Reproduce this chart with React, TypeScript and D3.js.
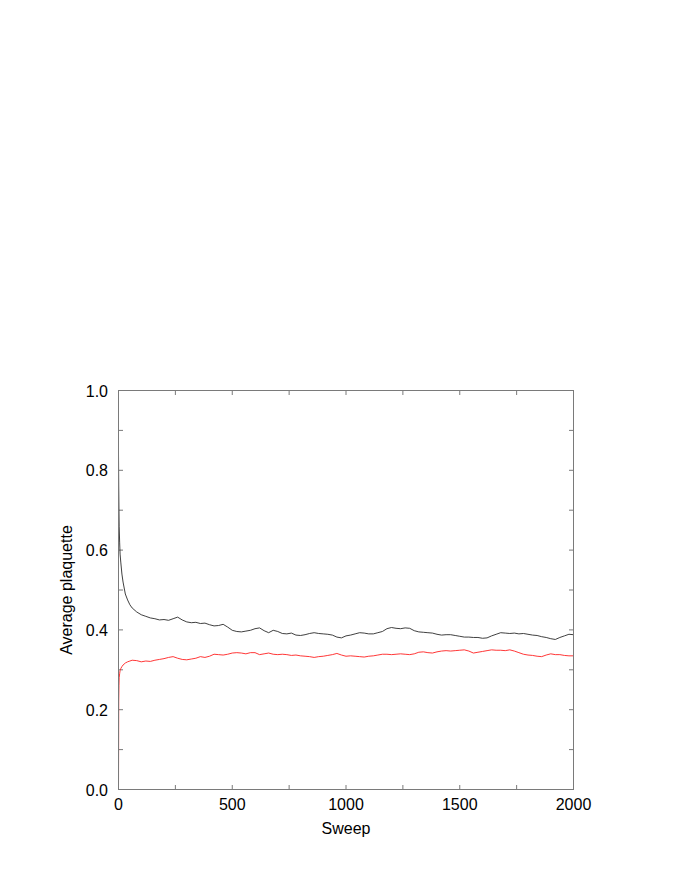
import React from "react";
import * as d3 from "d3";

const sweeps = [
  0, 1, 2, 3, 5, 7, 10, 15, 20, 30, 40, 50, 60, 80, 100, 120, 140, 160, 180, 200,
  220, 240, 260, 280, 300, 320, 340, 360, 380, 400, 420, 440, 460, 480, 500, 520, 540, 560, 580, 600,
  620, 640, 660, 680, 700, 720, 740, 760, 780, 800, 820, 840, 860, 880, 900, 920, 940, 960, 980, 1000,
  1020, 1040, 1060, 1080, 1100, 1120, 1140, 1160, 1180, 1200, 1220, 1240, 1260, 1280, 1300, 1320, 1340, 1360, 1380, 1400,
  1420, 1440, 1460, 1480, 1500, 1520, 1540, 1560, 1580, 1600, 1620, 1640, 1660, 1680, 1700, 1720, 1740, 1760, 1780, 1800,
  1820, 1840, 1860, 1880, 1900, 1920, 1940, 1960, 1980, 2000,
];

const blackSeries = [
  0.84, 0.76, 0.7, 0.66, 0.62, 0.59, 0.57, 0.54, 0.52, 0.49, 0.475, 0.463, 0.455, 0.445, 0.438, 0.434, 0.43, 0.428, 0.425, 0.426,
  0.424, 0.428, 0.432, 0.425, 0.42, 0.418, 0.419, 0.416, 0.417, 0.413, 0.41, 0.411, 0.414, 0.407, 0.399, 0.396, 0.395, 0.397, 0.399, 0.403,
  0.405, 0.398, 0.393, 0.399, 0.396, 0.391, 0.39, 0.392, 0.387, 0.386, 0.388, 0.391, 0.393, 0.391, 0.39, 0.389, 0.387, 0.382, 0.38, 0.385,
  0.387, 0.39, 0.393, 0.392, 0.39, 0.39, 0.393, 0.396, 0.403, 0.406, 0.404, 0.403, 0.405, 0.404, 0.398, 0.395, 0.394, 0.393, 0.392, 0.389,
  0.387, 0.388, 0.388, 0.386, 0.384, 0.382, 0.382, 0.381, 0.381, 0.379, 0.38, 0.385, 0.389, 0.393, 0.392, 0.391, 0.392, 0.39, 0.391, 0.389,
  0.387, 0.386, 0.383, 0.381, 0.378, 0.376, 0.381, 0.385, 0.389, 0.388,
];

const redSeries = [
  0.0, 0.22, 0.26, 0.28, 0.29, 0.298, 0.303, 0.308, 0.312, 0.317, 0.32, 0.322, 0.324, 0.323, 0.32, 0.322, 0.321, 0.324, 0.326, 0.328,
  0.331, 0.333, 0.329, 0.326, 0.325, 0.327, 0.329, 0.333, 0.331, 0.334, 0.339, 0.338, 0.337, 0.339, 0.342, 0.343, 0.342, 0.34, 0.343, 0.343,
  0.338, 0.34, 0.342, 0.339, 0.338, 0.339, 0.338, 0.336, 0.337, 0.335, 0.334, 0.333, 0.331, 0.333, 0.334, 0.336, 0.338, 0.341, 0.337, 0.334,
  0.335, 0.334, 0.333, 0.332, 0.334, 0.335, 0.337, 0.339, 0.339, 0.338, 0.339, 0.34, 0.339, 0.338, 0.34, 0.344, 0.345, 0.343, 0.342, 0.345,
  0.347, 0.348, 0.347, 0.348, 0.349, 0.35, 0.347, 0.342, 0.344, 0.346, 0.348, 0.35, 0.349, 0.349, 0.348, 0.35, 0.347, 0.343, 0.339, 0.337,
  0.336, 0.334, 0.333, 0.337, 0.34, 0.338, 0.338, 0.336, 0.335, 0.335,
];

const xTickLabels = [0, 500, 1000, 1500, 2000];
const xMinorTicks = [250, 750, 1250, 1750];
const yTickLabels = [0, 0.2, 0.4, 0.6, 0.8, 1.0];
const yMinorTicks = [0.1, 0.3, 0.5, 0.7, 0.9];

const xTitle = "Sweep";
const yTitle = "Average plaquette";

export default function App() {
  const W = 692;
  const H = 896;
  const left = 118.5, right = 573.5, top = 390.5, bottom = 789.5;
  const x = d3.scaleLinear().domain([0, 2000]).range([left, right]);
  const y = d3.scaleLinear().domain([0, 1]).range([bottom, top]);
  const line = d3
    .line<number>()
    .x((_, i) => x(sweeps[i]))
    .y((d) => y(d));
  const frame = "#7a7a7a";
  const tl = 4.5;
  const font = "'Liberation Sans', Arial, Helvetica, sans-serif";
  const allX = [...xTickLabels, ...xMinorTicks].filter((v) => v > 0 && v < 2000);
  const allY = [...yTickLabels, ...yMinorTicks].filter((v) => v > 0 && v < 1);
  return (
    <svg
      width={W}
      height={H}
      style={{ position: "absolute", left: 0, top: 0, background: "#fff" }}
    >
      <rect x={0} y={0} width={W} height={H} fill="#fff" />
      <g stroke={frame} strokeWidth={1}>
        {allX.map((v) => (
          <g key={"xt" + v}>
            <line x1={x(v)} x2={x(v)} y1={bottom} y2={bottom - tl} />
            <line x1={x(v)} x2={x(v)} y1={top} y2={top + tl} />
          </g>
        ))}
        {allY.map((v) => (
          <g key={"yt" + v}>
            <line x1={left} x2={left + tl} y1={y(v)} y2={y(v)} />
            <line x1={right} x2={right - tl} y1={y(v)} y2={y(v)} />
          </g>
        ))}
      </g>
      <path d={line(redSeries) || ""} fill="none" stroke="#ff2020" strokeWidth={0.9} />
      <path d={line(blackSeries) || ""} fill="none" stroke="#2a2a2a" strokeWidth={0.9} />
      <rect
        x={left}
        y={top}
        width={right - left}
        height={bottom - top}
        fill="none"
        stroke={frame}
        strokeWidth={1}
      />
      <g fontFamily={font} fontSize={16} fill="#000">
        {yTickLabels.map((v) => (
          <text key={"yl" + v} x={108} y={y(v) + 6} textAnchor="end">
            {v.toFixed(1)}
          </text>
        ))}
        {xTickLabels.map((v) => (
          <text key={"xl" + v} x={x(v)} y={810} textAnchor="middle">
            {v}
          </text>
        ))}
        <text x={(left + right) / 2} y={834} textAnchor="middle">
          {xTitle}
        </text>
        <text
          transform={`translate(72, ${(top + bottom) / 2}) rotate(-90)`}
          textAnchor="middle"
        >
          {yTitle}
        </text>
      </g>
    </svg>
  );
}
